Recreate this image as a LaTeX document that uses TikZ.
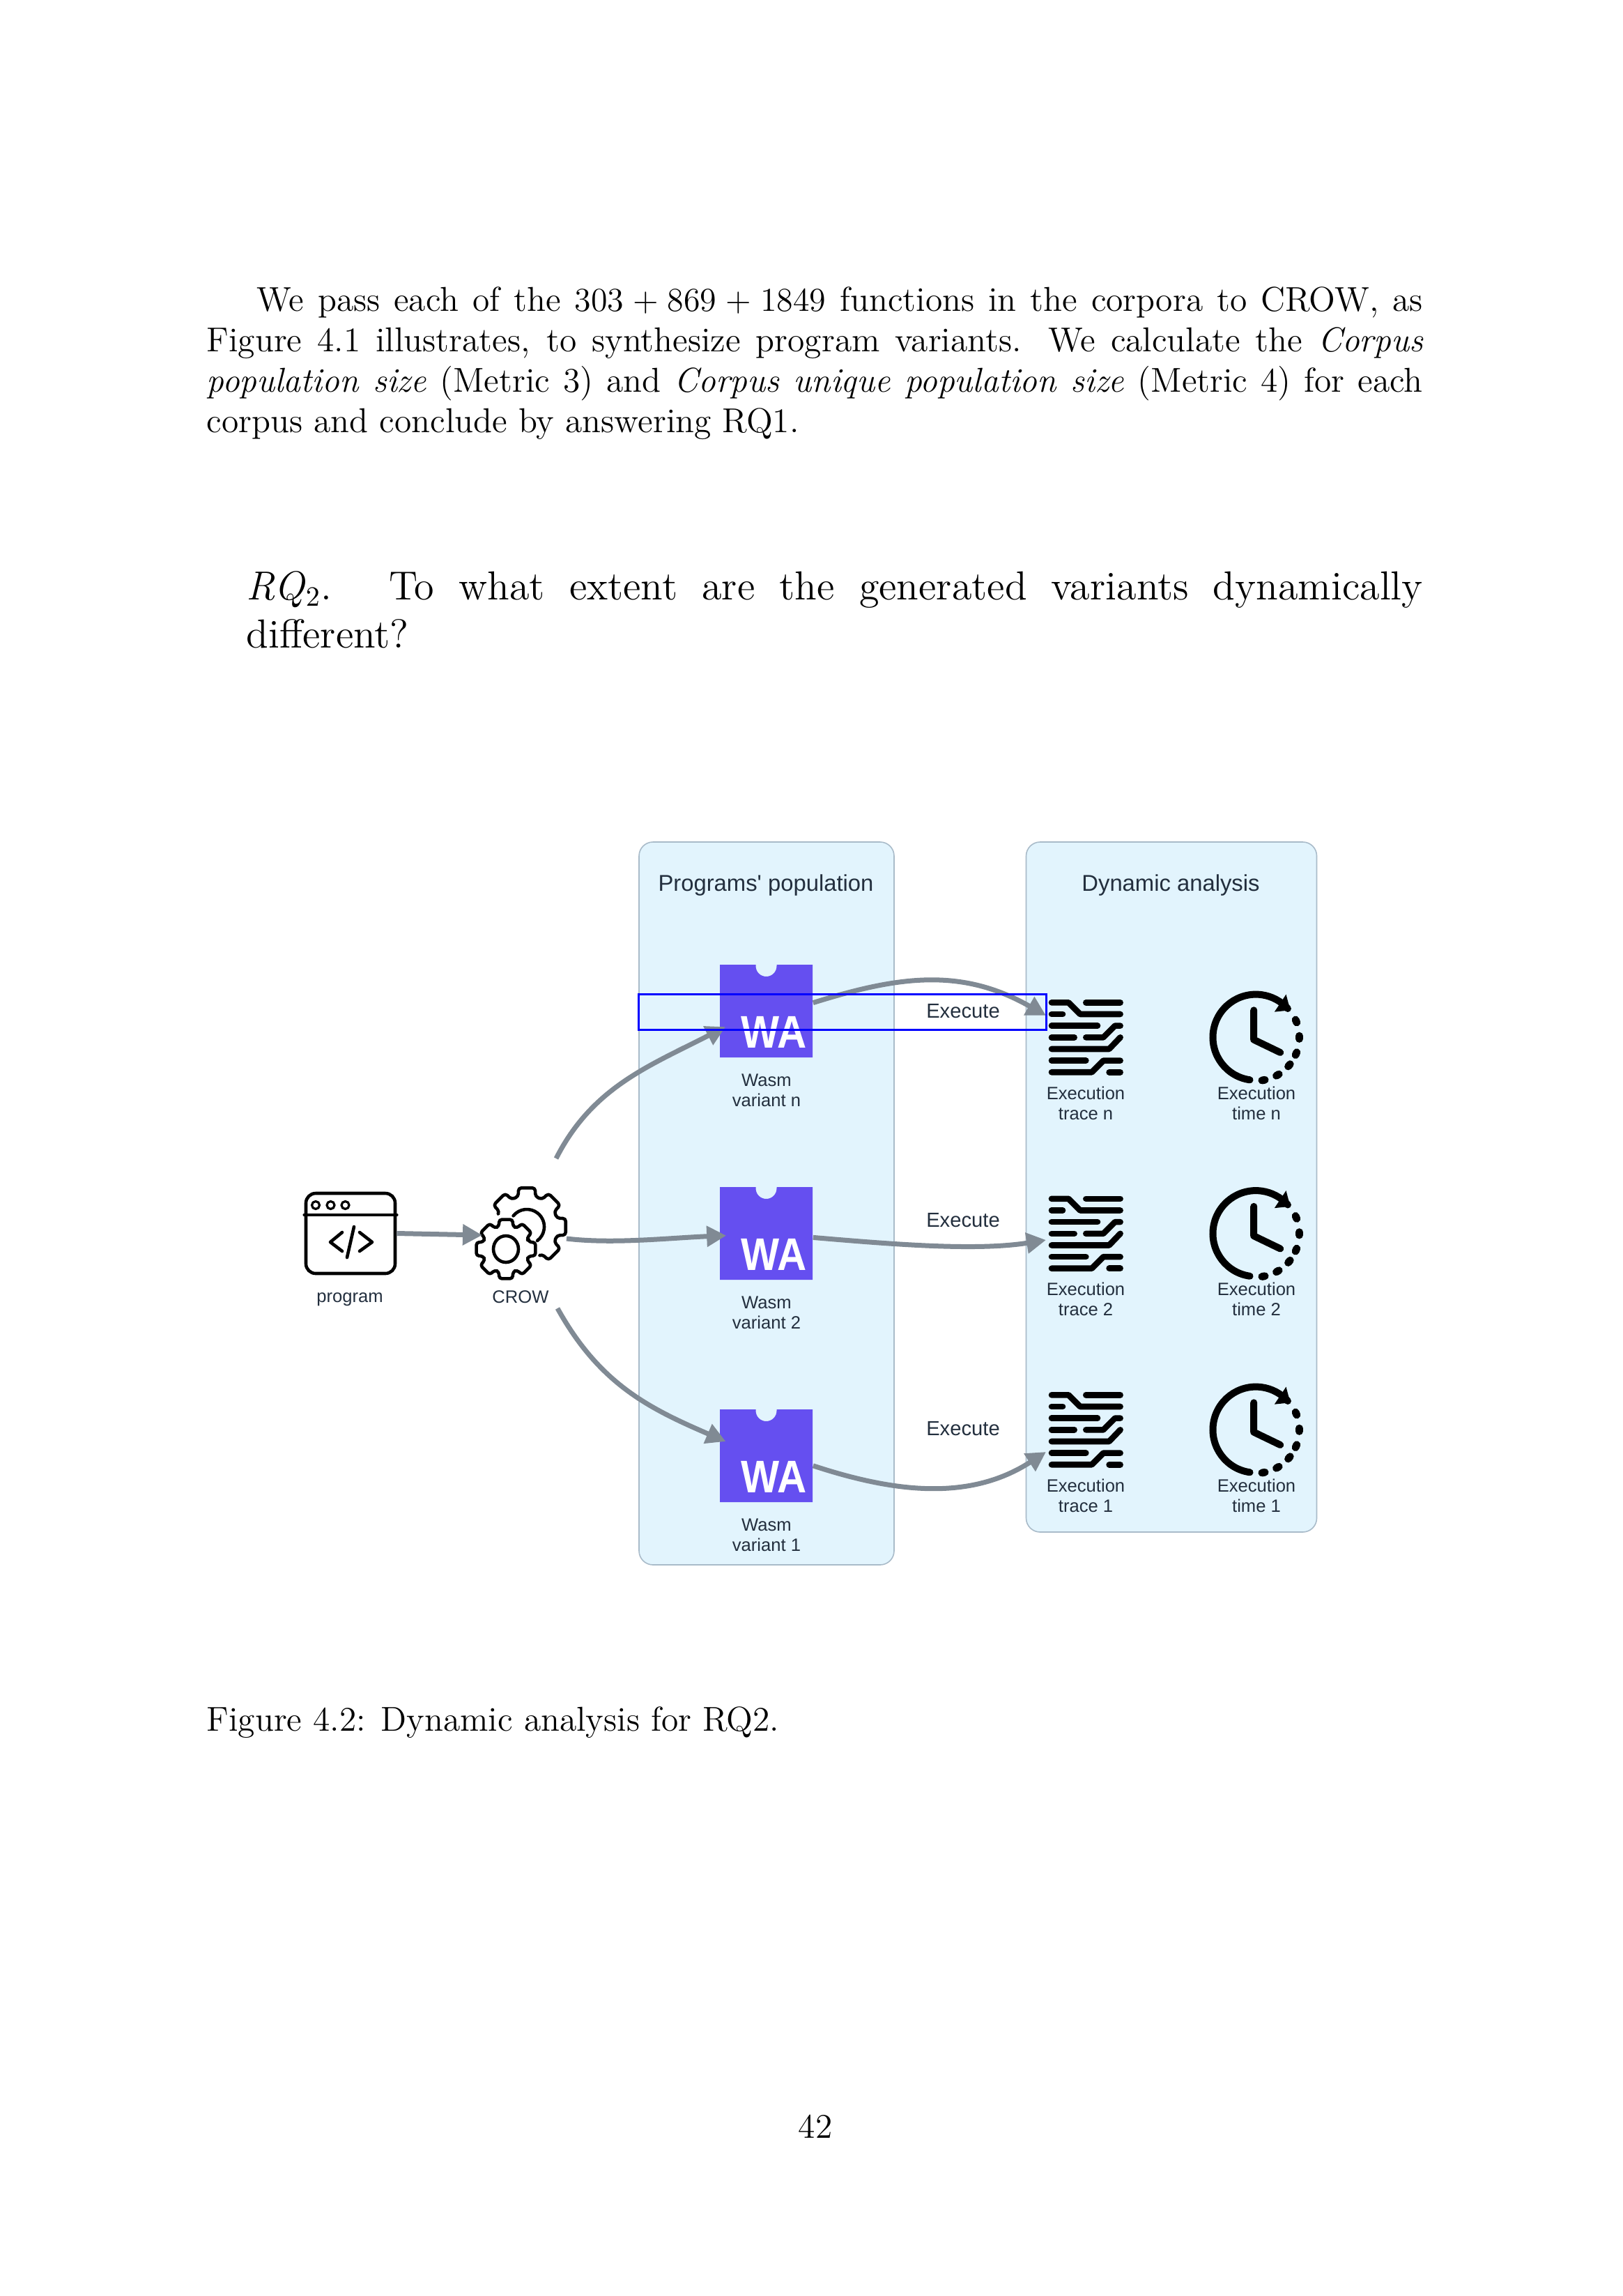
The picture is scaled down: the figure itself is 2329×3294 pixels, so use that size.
\documentclass[tikz,border=0pt,12pt]{standalone}
\usepackage{fontspec}
\newfontfamily\figfont{Liberation Sans}
\usetikzlibrary{arrows.meta}

\definecolor{panelfill}{HTML}{E2F4FD}
\definecolor{paneledge}{HTML}{A9BBC9}
\definecolor{wasmblue}{HTML}{654FF0}
\definecolor{arrowgray}{HTML}{808A94}
\definecolor{labelink}{HTML}{232F3E}

\tikzset{
  panelbox/.style={draw=paneledge, fill=panelfill, line width=.4pt, rounded corners=5pt, inner sep=0pt},
  wasmblock/.style={minimum size=33.25pt, inner sep=0pt},
  flowarrow/.style={draw=arrowgray, line width=1.75pt, -{Triangle[length=7pt,width=7.2pt]}},
  iconline/.style={line width=1.15pt, line cap=round, line join=round},
  traceline/.style={line width=2.15pt, line cap=round, line join=round},
  clockline/.style={line width=2.5pt, line cap=round, line join=round},
  smalllabel/.style={font=\figfont\fontsize{6.4}{7.25}\selectfont, text=labelink, align=center, inner sep=0pt},
  titlelabel/.style={font=\figfont\fontsize{8.2}{10}\selectfont, text=labelink, inner sep=0pt},
  execlabel/.style={font=\figfont\fontsize{7.3}{9}\selectfont, text=labelink, inner sep=0pt},
  bodytext/.style={anchor=north west, inner sep=0pt, align=justify, font=\fontsize{12.38}{14.5}\selectfont}
}

\begin{document}
\begin{tikzpicture}[x=.25pt, y=-.25pt]
\useasboundingbox (0,0) rectangle (2329,3294);

% page text
\node[bodytext, text width=436.25pt] (intro) at (296,410.5) {\hspace*{18pt}We pass each of the $303 + 869 + 1849$ functions in the corpora to CROW, as Figure 4.1 illustrates, to synthesize program variants. We calculate the \emph{Corpus population size} (Metric 3) and \emph{Corpus unique population size} (Metric 4) for each corpus and conclude by answering RQ1.};
\node[bodytext, text width=422pt, font=\fontsize{14.55}{17.3}\selectfont] (question) at (353,819) {\emph{RQ}$_2$.\hspace{1.4em}To what extent are the generated variants dynamically\linebreak different?};
\node[anchor=west, inner sep=0pt, font=\fontsize{12.38}{14.5}\selectfont] (caption) at (296,2471) {Figure 4.2: Dynamic analysis for RQ2.};
\node[inner sep=0pt, font=\fontsize{12.38}{14.5}\selectfont] (pagenum) at (1170,3051) {42};

% panels
\node[panelbox, minimum width=91.5pt, minimum height=259.25pt] (population) at (1100,1726.5) {};
\node[panelbox, minimum width=104.25pt, minimum height=247.5pt] (analysis) at (1681,1703) {};
\node[titlelabel] (populationtitle) at (1099,1270) {Programs' population};
\node[titlelabel] (analysistitle) at (1680,1270) {Dynamic analysis};

% wasm blocks
\foreach \name/\row/\lab in {wasmn/1384/n, wasmtwo/1703/2, wasmone/2022/1} {
  \fill[wasmblue] (1033,\row) -- (1084.5,\row) -- (1084.5,\row+2) arc[start angle=180, end angle=0, radius=15] -- (1114.5,\row) -- (1166,\row) -- (1166,\row+133) -- (1033,\row+133) -- cycle;
  \node[wasmblock] (\name) at (1099.5,\row+66.5) {};
  \node[xscale=.89, text=white, inner sep=0pt, font=\figfont\bfseries\fontsize{16.4}{18}\selectfont] (\name wa) at (1111,\row+97) {WA};
  \node[smalllabel] (\name label) at (1100,\row+180.5) {Wasm\\variant \lab};
}

% program icon
\node[draw, line width=1.15pt, rounded corners=3.5pt, minimum width=32pt, minimum height=28.75pt, inner sep=0pt] (program) at (503,1769.5) {};
\draw[iconline] (program.west |- 0,1743) -- (program.east |- 0,1743);
\foreach \dotx in {453,474.5,495.5} \draw[line width=.8pt] (\dotx,1729) circle[radius=5.5];
\draw[iconline] (491,1768) -- (474,1782) -- (491,1795);
\draw[iconline] (516,1768) -- (534,1782) -- (516,1795);
\draw[iconline] (508,1760) -- (498,1804);
\node[smalllabel] (programlabel) at (502,1864) {program};

% gears
\begin{scope}[shift={(756,1760)}]
\draw[iconline, rounded corners=1pt] (205:45) \foreach \a in {225,270,...,405} { -- (\a-16:45) -- (\a-12:57) -- (\a+12:57) -- (\a+16:45) } -- (425:45);
\draw[iconline] (219:25) arc[start angle=219, end angle=413, radius=25];
\end{scope}
\begin{scope}[shift={(726,1792)}]
\draw[iconline, rounded corners=1pt] (-17:34) \foreach \a in {0,45,...,315} { -- (\a-17:34) -- (\a-13:43.5) -- (\a+13:43.5) -- (\a+17:34) } -- cycle;
\draw[line width=1.15pt] (0,0) ellipse[x radius=18, y radius=19];
\end{scope}
\node[smalllabel] (crowlabel) at (747,1861) {CROW};

% dynamic analysis icons
\foreach \yrow/\lab in {0/n, 281.5/2, 563/1} {
  \begin{scope}[shift={(1480,1400+\yrow)}, x=.0833pt, y=-.0833pt]
  \draw[traceline] (87,115) -- (160,115) -- (210,165) -- (383,165);
  \draw[traceline] (235,115) -- (383,115);
  \draw[traceline] (87,165) -- (135,165);
  \draw[traceline] (87,215) -- (285,215);
  \draw[traceline] (87,265) -- (185,265);
  \draw[traceline] (235,265) -- (310,265) -- (360,215) -- (383,215);
  \draw[traceline] (87,315) -- (335,315) -- (383,265);
  \draw[traceline] (87,365) -- (235,365);
  \draw[traceline] (87,415) -- (260,415) -- (310,365) -- (383,365);
  \draw[traceline] (335,415) -- (383,415);
  % clock
  \draw[clockline] (941,448) arc[start angle=98, end angle=318, radius=185];
  \fill (1097,80) -- (1115,148) -- (1047,155) -- cycle;
  \draw[clockline] (958,148) -- (958,275) -- (1072,330);
  \foreach \a in {-22,0,22,40,60,80} \draw[clockline, line width=2.7pt] ([shift={(967,265)}]\a-2:187) -- ([shift={(967,265)}]\a+2:187);
  \end{scope}
  \node[smalllabel] (trace\lab) at (1558,1582.5+\yrow) {Execution\\trace \lab};
  \node[smalllabel] (time\lab) at (1803,1582.5+\yrow) {Execution\\time \lab};
}

% connectors
\draw[flowarrow] (program.east) -- (692,1772);
\coordinate (crowtop) at (798,1662);
\coordinate (crowright) at (813,1777);
\coordinate (crowbottom) at (800,1877);
\draw[flowarrow, shorten >=-2.5pt] (crowtop) .. controls (850,1560) and (930,1530) .. (wasmn.202);
\draw[flowarrow, shorten >=-2.5pt] (crowright) .. controls (880,1785) and (960,1776) .. (wasmtwo.183);
\draw[flowarrow, shorten >=-2.5pt] (crowbottom) .. controls (860,1985) and (930,2020) .. (wasmone.160);
\draw[flowarrow] (wasmn.10) .. controls (1290,1400) and (1380,1388) .. (1501,1457);
\draw[flowarrow] (wasmtwo.-5) .. controls (1280,1785) and (1400,1795) .. (1501,1779);
\draw[flowarrow] (wasmone.-12) .. controls (1280,2140) and (1390,2155) .. (1501,2083);

% execute labels
\node[execlabel] (executen) at (1382,1451) {Execute};
\node[execlabel] (executetwo) at (1382,1751) {Execute};
\node[execlabel] (executeone) at (1382,2050) {Execute};
\node[draw=blue, line width=.75pt, minimum width=146.25pt, minimum height=12.75pt, inner sep=0pt] (highlight) at (1208.5,1451.5) {};
\end{tikzpicture}
\end{document}
